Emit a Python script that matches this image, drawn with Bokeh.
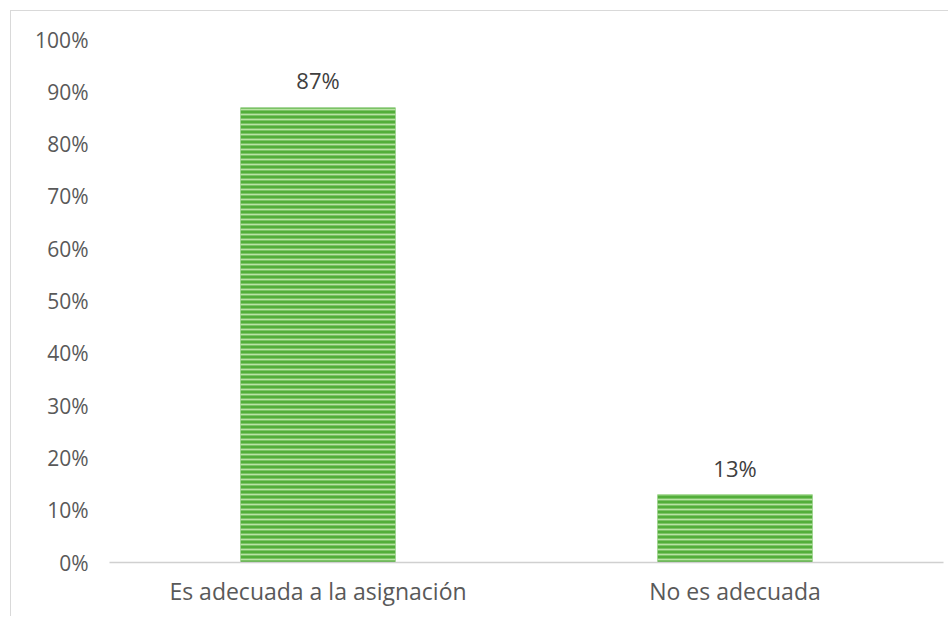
from bokeh.plotting import figure
from bokeh.models import ColumnDataSource, NumeralTickFormatter, FixedTicker, LabelSet
from bokeh.core.properties import value
from bokeh.embed import file_html
from bokeh.resources import INLINE

categories = ["Es adecuada a la asignación", "No es adecuada"]
values = [0.87, 0.13]
labels = ["87%", "13%"]
y_ticks = [0, 0.1, 0.2, 0.3, 0.4, 0.5, 0.6, 0.7, 0.8, 0.9, 1.0]

src = ColumnDataSource(dict(cat=categories, val=values, lab=labels))

p = figure(x_range=categories, y_range=(0, 1.0), width=938, height=606,
           output_backend="svg", toolbar_location=None,
           min_border_left=98, min_border_right=6, min_border_top=28, min_border_bottom=55)
p.styles = {"border-top": "1px solid #d9d9d9", "border-left": "1px solid #d9d9d9",
            "margin-left": "10px", "margin-top": "10px"}
p.outline_line_color = None
p.xgrid.grid_line_color = None
p.ygrid.grid_line_color = None

p.vbar(x="cat", top="val", width=0.372, source=src,
       fill_color="#52ae3a", line_color=None,
       hatch_pattern="horizontal_line", hatch_color="#b8e3a4",
       hatch_scale=5, hatch_weight=1.8)

lbl = LabelSet(x="cat", y="val", text="lab", source=src, text_align="center",
               text_baseline="bottom", y_offset=12, text_font_size="22px",
               text_color="#404040", text_font=value("Open Sans"))
p.add_layout(lbl)

p.yaxis.ticker = FixedTicker(ticks=y_ticks)
p.yaxis.formatter = NumeralTickFormatter(format="0%")
p.yaxis.axis_line_color = None
p.yaxis.major_tick_line_color = None
p.yaxis.minor_tick_line_color = None
p.yaxis.major_label_standoff = 15
p.yaxis.major_label_text_font_size = "21px"
p.yaxis.major_label_text_color = "#595959"
p.yaxis.major_label_text_font = "Open Sans"

p.xaxis.axis_line_color = "#d0d0d0"
p.xaxis.axis_line_width = 1.5
p.xaxis.major_tick_line_color = None
p.xaxis.minor_tick_line_color = None
p.xaxis.major_label_standoff = 6
p.xaxis.major_label_text_font_size = "23px"
p.xaxis.major_label_text_color = "#595959"
p.xaxis.major_label_text_font = "Open Sans"

open("out.html", "w").write(file_html(p, INLINE))
